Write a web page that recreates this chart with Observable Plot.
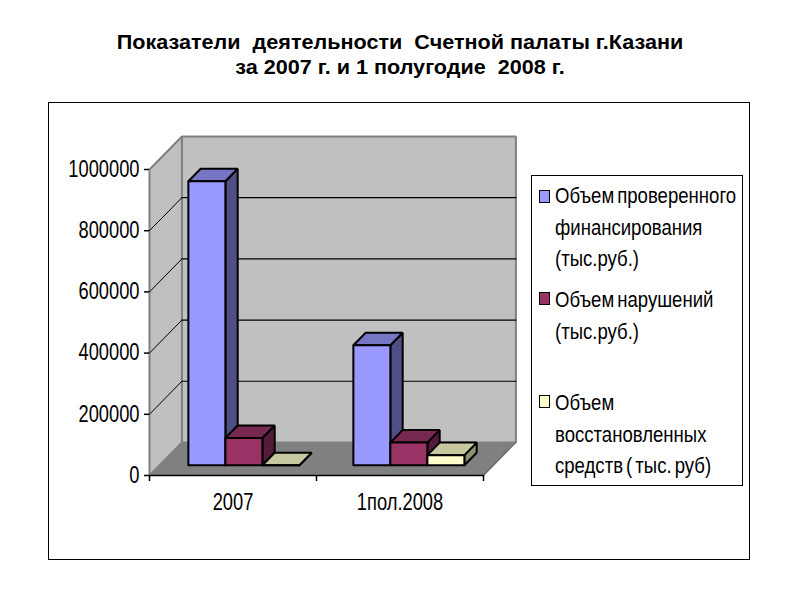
<!DOCTYPE html>
<html><head><meta charset="utf-8">
<script src="https://cdn.jsdelivr.net/npm/d3@7"></script>
<script src="https://cdn.jsdelivr.net/npm/@observablehq/plot@0.6"></script>
<style>
html,body{margin:0;padding:0;background:#fff;}
#page{position:relative;width:800px;height:600px;overflow:hidden;}
#title{position:absolute;left:0;width:800px;top:30px;text-align:center;font:bold 20px/25px "Liberation Sans",Arial,sans-serif;color:#000;transform:scaleX(1.08);transform-origin:400px 0;}
#frame{position:absolute;left:48px;top:102px;width:702px;height:458px;border:1px solid #000;box-sizing:border-box;}
#chart{position:absolute;left:48px;top:102px;}
#legend{position:absolute;left:531px;top:175px;width:212px;height:311px;border:1px solid #000;box-sizing:border-box;background:#fff;font:22.5px/31.5px "Liberation Sans",sans-serif;color:#000;word-spacing:-2.5px;}
.entry{position:absolute;left:23px;white-space:pre;transform:scaleX(.825);transform-origin:0 0;}
.swatch{position:absolute;left:7px;width:9px;height:11px;border:1.5px solid #000;}
</style></head><body>
<div id="page">
<div id="title">Показатели&nbsp; деятельности&nbsp; Счетной палаты г.Казани<br>за 2007 г. и 1 полугодие&nbsp; 2008 г.</div>
<div id="frame"></div>
<div id="chart"></div>
<div id="legend"></div>
</div>
<script>
const categories = ["2007", "1пол.2008"];
const seriesNames = [
  "Объем проверенного\nфинансирования\n(тыс.руб.)",
  "Объем нарушений\n(тыс.руб.)",
  "Объем\nвосстановленных\nсредств ( тыс. руб)"
];
const verified = [928000, 392000];
const violations = [89000, 74000];
const recovered = [0, 33000];
const yTicks = [0, 200000, 400000, 600000, 800000, 1000000];

const frontColors = ["#9999ff", "#993366", "#ffffcc"];
const sideColors = ["#4f4f85", "#551c3a", "#8f8f72"];
const topColors = ["#7676c4", "#772850", "#c8c8a0"];

const seriesValues = [verified, violations, recovered];
const yMax = 1000000;
// oblique projection, in data units of the two scales
const depthX = 0.194, depthY = 108000;
const P = (x, y, z) => ({x: x + z * depthX, y: y + z * depthY});
const poly = (pts, fill, stroke, strokeWidth) =>
  Plot.line([...pts, pts[0]], {x: "x", y: "y", fill, stroke, strokeWidth, strokeLinejoin: "miter"});
const seg = (a, b, stroke, strokeWidth) =>
  Plot.line([a, b], {x: "x", y: "y", stroke, strokeWidth});

const marks = [];
// walls and floor
marks.push(poly([P(0,0,1),P(2,0,1),P(2,yMax,1),P(0,yMax,1)], "#c0c0c0", "#808080", 2));
marks.push(poly([P(0,0,0),P(0,0,1),P(0,yMax,1),P(0,yMax,0)], "#c0c0c0", "#808080", 2));
marks.push(poly([P(0,0,0),P(2,0,0),P(2,0,1),P(0,0,1)], "#808080", "none", 0));
// gridlines
for (const v of yTicks.slice(1, -1)) {
  marks.push(seg(P(0,v,0), P(0,v,1), "#000", 1));
  marks.push(seg(P(0,v,1), P(2,v,1), "#000", 1.2));
}
marks.push(seg(P(2,0,0), P(2,0,1), "#666", 1.2));
// bars
const barW = 0.2216, z0 = 0.31, z1 = 0.69;
const groupCenters = [0.505, 1.493];
categories.forEach((c, i) => {
  seriesValues.forEach((vals, j) => {
    const v = vals[i];
    const a = groupCenters[i] - 1.5 * barW + j * barW, b = a + barW;
    marks.push(poly([P(b,0,z0),P(b,0,z1),P(b,v,z1),P(b,v,z0)], sideColors[j], "#000", 2));
    marks.push(poly([P(a,v,z0),P(b,v,z0),P(b,v,z1),P(a,v,z1)], topColors[j], "#000", 2));
    marks.push(poly([P(a,0,z0),P(b,0,z0),P(b,v,z0),P(a,v,z0)], frontColors[j], "#000", 2));
  });
});
// axes
const font = "Liberation Sans";
marks.push(seg(P(0,0,0), P(2,0,0), "#000", 1.5));
marks.push(Plot.axisY({ticks: yTicks, tickFormat: d => String(d), tickSize: 5, tickPadding: 5,
  fontSize: 23, fontFamily: font, stroke: "#000", fill: "#000", label: null, strokeWidth: 1.5}));
marks.push(Plot.axisX({ticks: [0, 1, 2], tickFormat: () => "", tickSize: 6, stroke: "#000", label: null, strokeWidth: 1.5}));
marks.push(Plot.text(categories, {x: (d, i) => i + 0.5, y: 0, text: d => d, dy: 27,
  fontSize: 23, fontFamily: font, fill: "#000"}));

const plot = Plot.plot({
  width: 702, height: 458,
  marginLeft: 101, marginRight: 267, marginTop: 67, marginBottom: 85,
  style: {background: "transparent", overflow: "visible"},
  x: {type: "linear", domain: [0, 2], range: [101, 435]},
  y: {type: "linear", domain: [0, yMax], range: [373, 67]},
  marks
});
document.getElementById("chart").appendChild(plot);
// the reference's labels are horizontally condensed
plot.querySelectorAll("text").forEach(t => {
  const len = t.getComputedTextLength();
  if (len > 0) {
    t.setAttribute("textLength", len * 0.795);
    t.setAttribute("lengthAdjust", "spacingAndGlyphs");
  }
});

// legend
const tops = [4, 108, 211];
const swatchTops = [14, 116, 219];
const legend = document.getElementById("legend");
seriesNames.forEach((name, j) => {
  const s = document.createElement("div");
  s.className = "swatch";
  s.style.top = swatchTops[j] + "px";
  s.style.background = frontColors[j];
  legend.appendChild(s);
  const e = document.createElement("div");
  e.className = "entry";
  e.style.top = tops[j] + "px";
  e.textContent = name;
  legend.appendChild(e);
});
</script>
</body></html>
